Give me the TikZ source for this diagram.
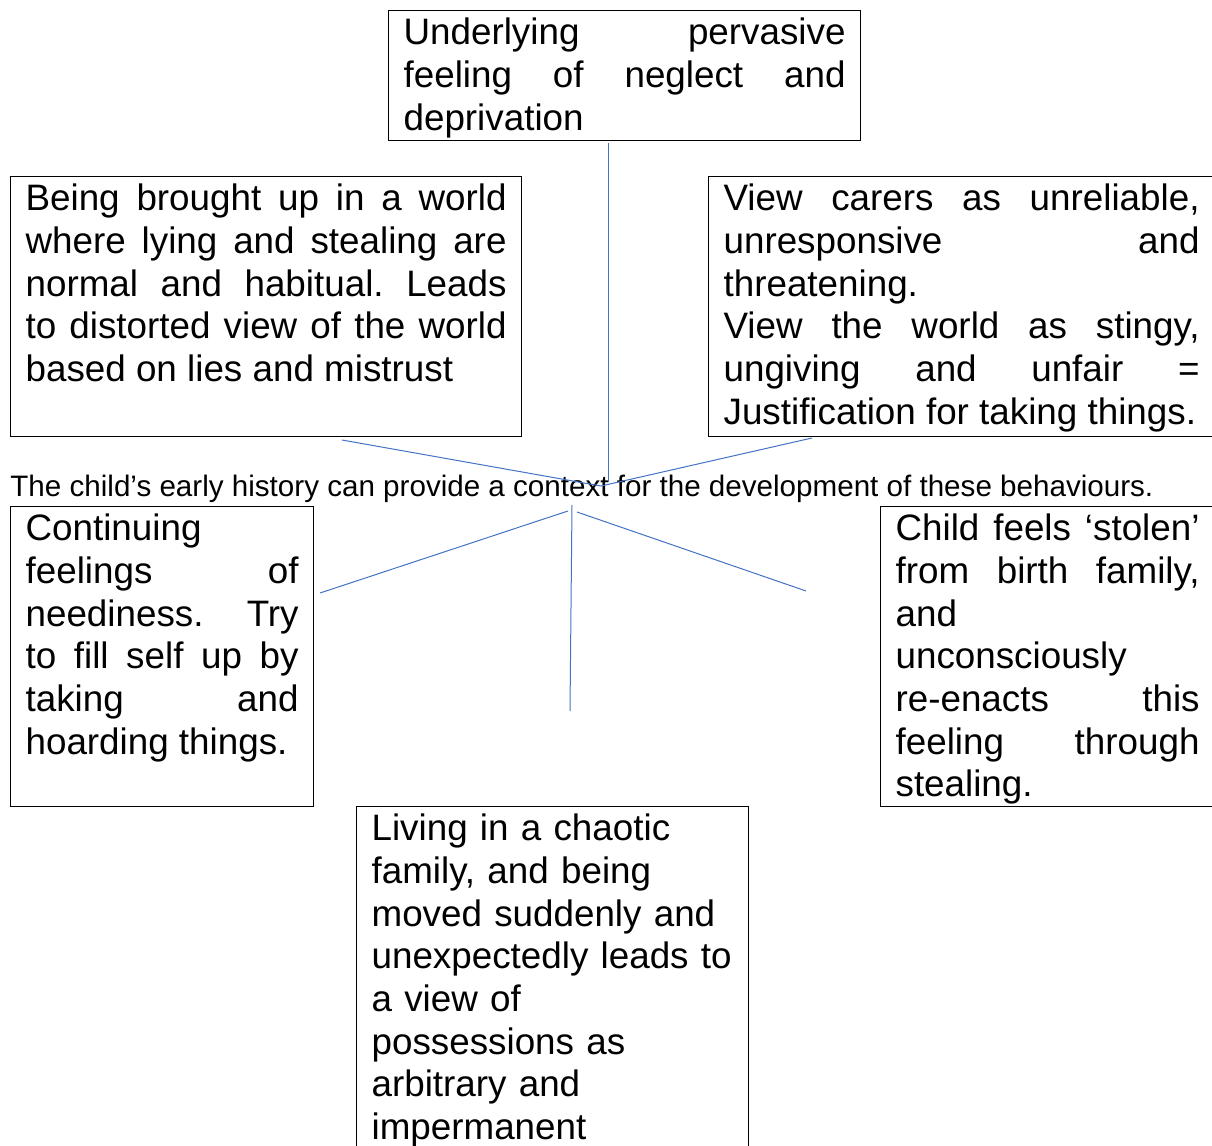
\documentclass[tikz,border=0pt]{standalone}
\usepackage{fontspec}
\setmainfont{Liberation Sans}
\definecolor{linkblue}{HTML}{4472C4}
\tolerance=10000
\hbadness=10000
\hyphenpenalty=10000
\exhyphenpenalty=10000
\frenchspacing

\begin{document}
\begin{tikzpicture}[x=0.5pt, y=-0.5pt,
    box/.style={draw, line width=0.6pt, anchor=north west, inner xsep=7.5pt, inner ysep=0pt,
      align=justify, text height=17pt, font=\fontsize{18.4pt}{21.35pt}\selectfont},
    caption/.style={anchor=base west, inner sep=0pt, font=\fontsize{14.8pt}{17pt}\selectfont},
    link/.style={draw=linkblue, line width=0.5pt}]
    \useasboundingbox (0,0) rectangle (1212,1146);

    % boxes
    \node[box, text width=221pt, text depth=48pt] (neglect) at (388,10)
        {Underlying pervasive \linebreak feeling of neglect and \linebreak deprivation};
    \node[box, text width=240.5pt, text depth=113pt] (lying) at (10,176)
        {Being brought up in a world \linebreak where lying and stealing are \linebreak normal and habitual. Leads \linebreak to distorted view of the world \linebreak based on lies and mistrust};
    \node[box, text width=238pt, text depth=113pt] (carers) at (708,176)
        {View carers as unreliable, \linebreak unresponsive and \linebreak threatening.\\
         View the world as stingy, \linebreak ungiving and unfair = \linebreak Justification for taking things.};
    \node[caption] (history) at (10,496)
        {The child’s early history can provide a context for the development of these behaviours.};
    \node[box, text width=136.5pt, text depth=133pt] (neediness) at (10,506)
        {Continuing \linebreak feelings of \linebreak neediness. Try \linebreak to fill self up by \linebreak taking and \linebreak hoarding things.};
    \node[box, text width=152pt, text depth=133pt] (stolen) at (880,506)
        {Child feels ‘stolen’ \linebreak from birth family, \linebreak and \linebreak unconsciously \linebreak re-enacts this \linebreak feeling through \linebreak stealing.};
    \node[box, align=left, text width=181pt, text depth=163pt] (chaos) at (356,806)
        {Living in a chaotic\\ family, and being\\ moved suddenly and\\ unexpectedly leads to\\ a view of\\ possessions as\\ arbitrary and\\ impermanent};

    % links
    \coordinate (n1) at (608,143);
    \coordinate (n2) at (608,482);
    \coordinate (l1) at (342,440);
    \coordinate (r1) at (812,438);
    \coordinate (hub) at (601,486);
    \coordinate (b0) at (572,505);
    \coordinate (b1) at (570,711);
    \coordinate (bl0) at (568,511);
    \coordinate (bl1) at (320,593);
    \coordinate (br0) at (577,512);
    \coordinate (br1) at (806,591);
    \foreach \a/\b in {n1/n2, l1/hub, hub/r1, bl0/bl1, b0/b1, br0/br1}
        \draw[link] (\a) -- (\b);
\end{tikzpicture}
\end{document}
